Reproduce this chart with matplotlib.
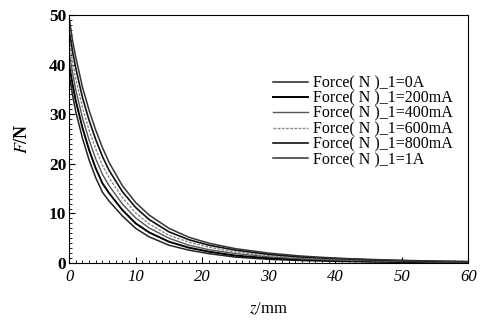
import matplotlib.pyplot as plt
from matplotlib.ticker import MultipleLocator

plt.rcParams['font.family'] = ['Liberation Serif', 'DejaVu Serif']
plt.rcParams['mathtext.fontset'] = 'stix'

# distance z (mm)
z = [0, 0.5, 1, 2, 3, 4, 5, 6, 8, 10, 12, 15, 18, 21, 25, 30, 35, 40, 45, 50, 55, 60]

# force values (N)
f_0A = [38, 34, 30.5, 25.2, 20.8, 17.2, 14.3, 12.5, 9.5, 7.0, 5.3, 3.6, 2.6, 1.9, 1.2, 0.75, 0.5, 0.35, 0.25, 0.18, 0.12, 0.1]
f_200mA = [40, 36.2, 32.7, 27.3, 22.8, 19.1, 16.1, 14.1, 10.7, 8.0, 6.2, 4.3, 3.1, 2.3, 1.5, 1.0, 0.7, 0.5, 0.35, 0.25, 0.18, 0.14]
f_400mA = [42.5, 38.5, 34.9, 29.3, 24.8, 21.0, 17.9, 15.6, 11.9, 9.1, 7.1, 5.0, 3.6, 2.7, 1.9, 1.25, 0.85, 0.6, 0.45, 0.33, 0.23, 0.18]
f_600mA = [45, 40.6, 37.1, 31.4, 26.8, 23.0, 19.7, 17.2, 13.2, 10.1, 7.9, 5.6, 4.2, 3.2, 2.2, 1.5, 1.05, 0.75, 0.55, 0.4, 0.29, 0.22]
f_800mA = [47, 42.8, 39.3, 33.4, 28.8, 24.9, 21.5, 18.7, 14.4, 11.2, 8.8, 6.3, 4.7, 3.6, 2.6, 1.75, 1.2, 0.9, 0.65, 0.48, 0.35, 0.26]
f_1A = [49.5, 45, 41.5, 35.5, 30.8, 26.8, 23.3, 20.3, 15.6, 12.2, 9.7, 7.0, 5.2, 4.0, 2.9, 2.0, 1.4, 1.0, 0.75, 0.55, 0.4, 0.3]

labels = ['Force( N )_1=0A', 'Force( N )_1=200mA', 'Force( N )_1=400mA',
          'Force( N )_1=600mA', 'Force( N )_1=800mA', 'Force( N )_1=1A']
series = [f_0A, f_200mA, f_400mA, f_600mA, f_800mA, f_1A]
colors = ['#222222', '#000000', '#555555', '#888888', '#111111', '#333333']
widths = [1.1, 1.4, 1.0, 1.0, 1.2, 1.1]
styles = ['-', '-', '-', (0, (2, 1)), '-', '-']

fig = plt.figure(figsize=(4.8, 3.28), dpi=100)
ax = fig.add_axes([0.144, 0.198, 0.832, 0.756])

for f, lab, c, w, s in zip(series, labels, colors, widths, styles):
    ax.plot(z, f, color=c, lw=w, ls=s, label=lab)

ax.set_xlim(0, 60)
ax.set_ylim(0, 50)
ax.xaxis.set_major_locator(MultipleLocator(10))
ax.yaxis.set_major_locator(MultipleLocator(10))
ax.xaxis.set_minor_locator(MultipleLocator(1))
ax.yaxis.set_minor_locator(MultipleLocator(1))
ax.tick_params(which='both', direction='in', top=False, right=False)
ax.tick_params(which='major', length=4, width=0.8)
ax.tick_params(which='minor', length=2, width=0.6)
ax.tick_params(axis='y', labelsize=12.5, pad=2)
ax.tick_params(axis='x', labelsize=12, pad=4)
for t in ax.get_yticklabels():
    t.set_fontweight('bold')
for t in ax.get_xticklabels():
    t.set_fontstyle('italic')
for sp in ax.spines.values():
    sp.set_linewidth(0.8)

ax.set_xlabel('$\\it{z}$/mm', fontsize=12, labelpad=12)
ax.set_ylabel('$\\mathbf{\\it{F}}$/N', fontsize=13, fontweight='bold', labelpad=13)

ax.legend(loc='upper left', bbox_to_anchor=(0.51, 0.758), frameon=False,
          fontsize=11.5, handlelength=2.2, handletextpad=0.3,
          labelspacing=-0.04, borderpad=0, borderaxespad=0)

plt.savefig('out.png', dpi=100)
